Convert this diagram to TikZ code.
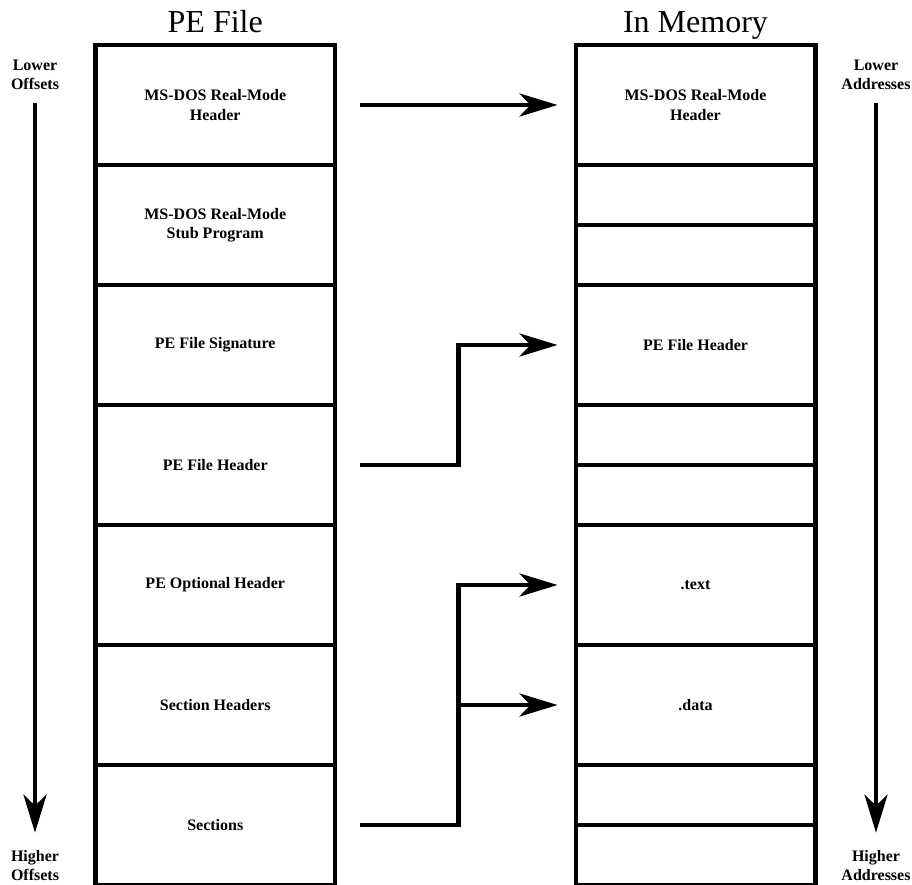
\documentclass[tikz,border=0pt]{standalone}
\usepackage{fontspec}
\setmainfont{Liberation Serif}
\usetikzlibrary{arrows.meta}
\tikzset{
  cell/.style={draw=black, line width=4.5pt, minimum width=239.5pt, inner sep=0pt,
    align=center, font=\bfseries\fontsize{16}{19.5}\selectfont},
  full/.style={cell, minimum height=120pt},
  half/.style={cell, minimum height=60pt},
  title/.style={font=\fontsize{32}{36}\selectfont, anchor=base, inner sep=0pt},
  side/.style={align=center, inner sep=0pt, font=\bfseries\fontsize{16}{19}\selectfont},
  conn/.style={line width=4.5pt, -{Stealth[length=38pt, width=23pt, inset=11pt]}},
  dirarrow/.style={line width=4.5pt, -{Stealth[length=38pt, width=23pt, inset=11pt]}}
}
\begin{document}
\begin{tikzpicture}[x=1pt, y=-1pt]
\useasboundingbox (0,0) rectangle (912,885);
% titles
\node[title] (t1) at (215.25,33) {PE File};
\node[title] (t2) at (695.5,33) {In Memory};
% left column
\node[full] (l1) at (215.25,105) {MS-DOS Real-Mode\\Header};
\node[full] (l2) at (215.25,225) {MS-DOS Real-Mode\\Stub Program};
\node[full] (l3) at (215.25,345) {PE File Signature};
\node[full] (l4) at (215.25,465) {PE File Header};
\node[full] (l5) at (215.25,585) {PE Optional Header};
\node[full] (l6) at (215.25,705) {Section Headers};
\node[full] (l7) at (215.25,825) {Sections};
% right column
\node[full] (r1) at (695.5,105) {MS-DOS Real-Mode\\Header};
\node[half] (r2a) at (695.5,195) {};
\node[half] (r2b) at (695.5,255) {};
\node[full] (r3) at (695.5,345) {PE File Header};
\node[half] (r4a) at (695.5,435) {};
\node[half] (r4b) at (695.5,495) {};
\node[full] (r5) at (695.5,585) {.text};
\node[full] (r6) at (695.5,705) {.data};
\node[half] (r7a) at (695.5,795) {};
\node[half] (r7b) at (695.5,855) {};
% side labels
\node[side] (lo) at (35,75) {Lower\\Offsets};
\node[side] (ho) at (35,866) {Higher\\Offsets};
\node[side] (la) at (876,75) {Lower\\Addresses};
\node[side] (ha) at (876,866) {Higher\\Addresses};
\draw[dirarrow, shorten <=13pt, shorten >=18pt] (lo.south) -- (ho.north);
\draw[dirarrow, shorten <=13pt, shorten >=18pt] (la.south) -- (ha.north);
% connectors
\draw[conn, shorten <=23pt, shorten >=16pt] (l1.east) -- (r1.west);
\path (l4.east) ++(121,0) coordinate (j1);
\draw[conn, shorten <=23pt, shorten >=16pt] (l4.east) -- (j1) |- (r3.west);
\path (l7.east) ++(121,0) coordinate (j2);
\draw[conn, shorten <=23pt, shorten >=16pt] (l7.east) -- (j2) |- (r5.west);
\draw[conn, shorten >=16pt] (j2) |- (r6.west);
\end{tikzpicture}
\end{document}
